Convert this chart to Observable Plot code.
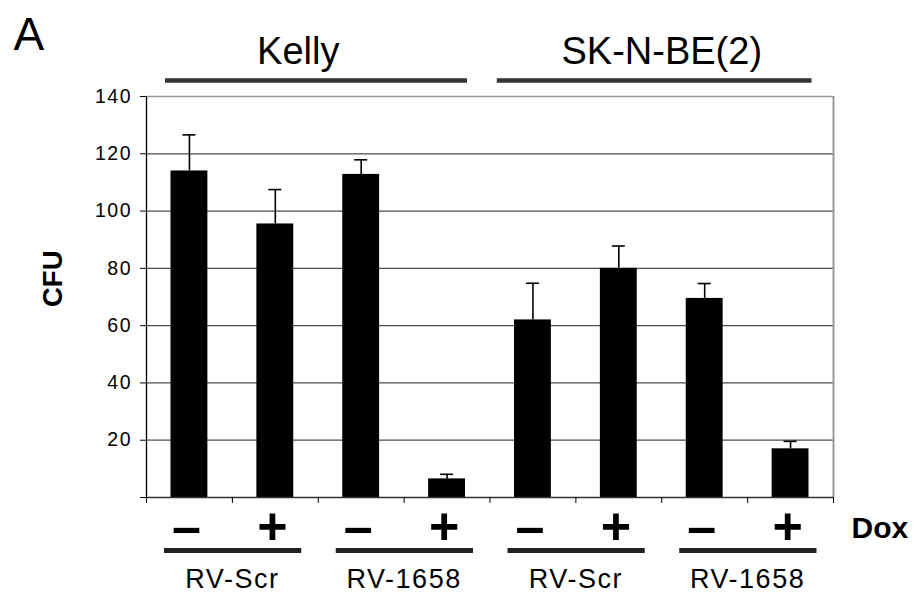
<!DOCTYPE html>
<html>
<head>
<meta charset="utf-8">
<script src="https://cdn.jsdelivr.net/npm/d3@7"></script>
<script src="https://cdn.jsdelivr.net/npm/@observablehq/plot@0.6"></script>
<style>
  body { margin: 0; background: #fff; }
  #chart svg { display: block; }
  #chart g[aria-label="y-axis tick label"] text { letter-spacing: 1.5px; }
  #chart g[font-size="27"] text { letter-spacing: 1.5px; }
</style>
</head>
<body>
<div id="chart"></div>
<script>
// Colony-forming units per condition, with standard error
const cellLines = ["Kelly", "SK-N-BE(2)"];
const vectors = ["RV-Scr", "RV-1658", "RV-Scr", "RV-1658"];
const doxLabels = ["\u2013", "+", "\u2013", "+", "\u2013", "+", "\u2013", "+"];
const cfu = [114, 95.5, 112.8, 6.5, 62, 80, 69.5, 17];
const cfuError = [12.6, 12, 5.1, 1.6, 12.8, 7.8, 5.2, 2.6];
const yTicks = [0, 20, 40, 60, 80, 100, 120, 140];

const rows = cfu.map((value, i) => ({ i, value, err: cfuError[i], dox: doxLabels[i] }));
const pairs = vectors.map((name, k) => ({ name, start: 2 * k, end: 2 * k + 2 }));
const groups = cellLines.map((name, k) => ({ name, start: 4 * k, end: 4 * k + 4 }));
const yMax = yTicks[yTicks.length - 1];

// per-group cosmetic offsets for the cell-line headers
const groupLabelShift = [-20, 0];
const groupLineInset = [[19, 22.5], [7.3, 21.5]];

const font = "'Liberation Sans', Arial, Helvetica, sans-serif";

const chart = Plot.plot({
  width: 914,
  height: 594,
  marginLeft: 146,
  marginRight: 81,
  marginTop: 96,
  marginBottom: 97,
  style: { fontFamily: font, background: "#fff", color: "#000" },
  x: { domain: [0, cfu.length], axis: null },
  y: { domain: [0, yMax], axis: null },
  marks: [
    // grid and frame
    Plot.ruleY(yTicks.filter(t => t > 0 && t < yMax), { stroke: "#4d4d4d", strokeWidth: 1.3 }),
    Plot.ruleY([yMax], { stroke: "#9a9a9a", strokeWidth: 1.6 }),
    Plot.ruleX([cfu.length], { stroke: "#9a9a9a", strokeWidth: 2 }),

    // bars with error whiskers
    Plot.rect(rows, {
      x1: "i", x2: d => d.i + 1, y1: 0, y2: "value",
      insetLeft: 24.5, insetRight: 24.5, fill: "#000"
    }),
    Plot.ruleX(rows, {
      x: d => d.i + 0.5, y1: "value", y2: d => d.value + d.err,
      stroke: "#000", strokeWidth: 1.6
    }),
    Plot.ruleY(rows, {
      y: d => d.value + d.err, x1: d => d.i + 0.5, x2: d => d.i + 0.5,
      insetLeft: -6.5, insetRight: -6.5, stroke: "#000", strokeWidth: 1.6
    }),

    // axes
    Plot.ruleX([0], { stroke: "#000", strokeWidth: 1.3 }),
    Plot.ruleY([0], { stroke: "#333", strokeWidth: 1.3 }),
    Plot.axisY({
      ticks: yTicks, tickSize: 6, tickPadding: 8.5, fontSize: 19.5,
      tickFormat: d => (d === 0 ? "" : d), label: null, stroke: "#000"
    }),
    Plot.axisX({
      ticks: d3.range(cfu.length + 1), tickSize: 6,
      tickFormat: () => "", label: null, stroke: "#000"
    }),
    Plot.text(["CFU"], {
      frameAnchor: "left", text: d => d, rotate: -90, dx: -93.5, dy: 10,
      lineAnchor: "middle", fontWeight: "bold", fontSize: 27.5
    }),

    // panel letter
    Plot.text(["A"], {
      frameAnchor: "top-left", text: d => d, dx: -133, dy: -47,
      textAnchor: "start", lineAnchor: "bottom", fontSize: 46
    }),

    // cell-line headers
    ...groups.map((g, k) => Plot.text([g], {
      x: d => (d.start + d.end) / 2, text: "name", frameAnchor: "top",
      dy: -33, dx: groupLabelShift[k], lineAnchor: "bottom", fontSize: 38
    })),
    ...groups.map((g, k) => Plot.ruleY([g], {
      x1: "start", x2: "end", y: () => yMax, dy: -16,
      insetLeft: groupLineInset[k][0], insetRight: groupLineInset[k][1],
      stroke: "#333", strokeWidth: 4.5
    })),

    // doxycycline row
    Plot.text(rows, {
      x: d => d.i + 0.5, text: "dox", frameAnchor: "bottom", dx: -3, dy: 30,
      lineAnchor: "middle", fontWeight: "bold", fontSize: 52
    }),
    Plot.text(["Dox"], {
      frameAnchor: "bottom-right", text: d => d, dx: 18, dy: 40,
      textAnchor: "start", lineAnchor: "bottom", fontWeight: "bold", fontSize: 30
    }),

    // vector row
    Plot.ruleY(pairs, {
      x1: "start", x2: "end", y: () => 0, dy: 53,
      insetLeft: 18, insetRight: 16.5, stroke: "#222", strokeWidth: 5
    }),
    Plot.text(pairs, {
      x: d => (d.start + d.end) / 2, text: "name", frameAnchor: "bottom",
      dy: 90.5, lineAnchor: "bottom", fontSize: 27
    })
  ]
});

document.getElementById("chart").appendChild(chart);
</script>
</body>
</html>
